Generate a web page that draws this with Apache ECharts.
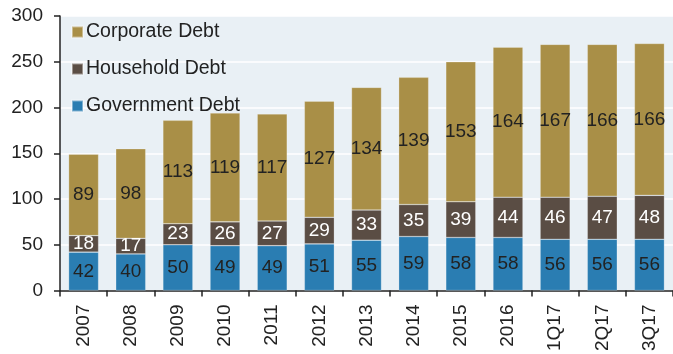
<!DOCTYPE html>
<html><head><meta charset="utf-8">
<script src="https://cdn.jsdelivr.net/npm/echarts@6/dist/echarts.min.js"></script>
<style>html,body{margin:0;padding:0;background:#fff}#c{width:673px;height:354px}</style>
</head><body><div id="c"></div>
<script>
var categories = ['2007','2008','2009','2010','2011','2012','2013','2014','2015','2016','1Q17','2Q17','3Q17'];
var government = [42,40,50,49,49,51,55,59,58,58,56,56,56];
var household = [18,17,23,26,27,29,33,35,39,44,46,47,48];
var corporate = [89,98,113,119,117,127,134,139,153,164,167,166,166];
var yTicks = {min:0, max:300, interval:50};

var chart = echarts.init(document.getElementById('c'));
var font = 'Liberation Sans, Arial, sans-serif';
function lbl(color){return {show:true, position:'inside', color:color, fontSize:19, fontFamily:font};}
chart.setOption({
  animation:false,
  grid:{left:60, top:16, width:617, height:278, show:true, backgroundColor:'#e9f0f5', borderWidth:0},
  legend:{orient:'vertical', left:66, top:17, itemWidth:11, itemHeight:11, itemGap:17,
    icon:'rect', data:['Corporate Debt','Household Debt','Government Debt'],
    textStyle:{fontSize:19.5, color:'#222', fontFamily:font, padding:[0,0,0,-2]}},
  xAxis:{type:'category', data:categories,
    axisLine:{lineStyle:{color:'#222', width:1.5}},
    axisTick:{show:true, length:6, lineStyle:{color:'#222', width:1.5}},
    axisLabel:{rotate:90, fontSize:19, color:'#222', fontFamily:font, margin:14}},
  yAxis:{type:'value', min:yTicks.min, max:yTicks.max, interval:yTicks.interval,
    axisLine:{show:true, lineStyle:{color:'#222', width:1.5}},
    axisTick:{show:true, length:6, lineStyle:{color:'#222', width:1.5}},
    splitLine:{lineStyle:{color:'#ffffff', width:1.5}},
    axisLabel:{fontSize:19, color:'#222', fontFamily:font, margin:17}},
  series:[
    {name:'Government Debt', type:'bar', stack:'a', data:government, barWidth:30,
     itemStyle:{color:'#2a7db2', borderColor:'rgba(255,255,255,0.4)', borderWidth:0.6}, label:lbl('#222')},
    {name:'Household Debt', type:'bar', stack:'a', data:household, barWidth:30,
     itemStyle:{color:'#5a4d44', borderColor:'rgba(255,255,255,0.4)', borderWidth:0.6}, label:lbl('#ffffff')},
    {name:'Corporate Debt', type:'bar', stack:'a', data:corporate, barWidth:30,
     itemStyle:{color:'#a98f47', borderColor:'rgba(255,255,255,0.4)', borderWidth:0.6}, label:lbl('#222')}
  ]
});
</script></body></html>
